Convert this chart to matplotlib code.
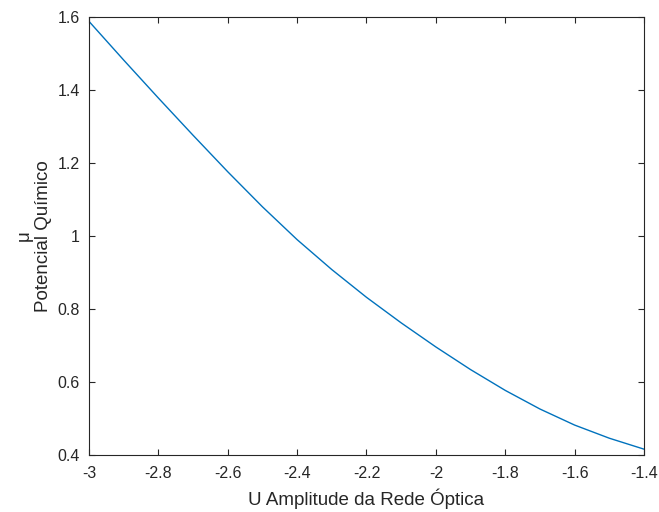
import numpy as np
from matplotlib import pyplot as plt
from matplotlib.ticker import FuncFormatter

plt.rcParams['font.family'] = ['Liberation Sans', 'DejaVu Sans']

# values
amplitude = [-3.0, -2.9, -2.8, -2.7, -2.6, -2.5, -2.4, -2.3, -2.2,
             -2.1, -2.0, -1.9, -1.8, -1.7, -1.6, -1.5, -1.4]
mu = [1.588, 1.482, 1.378, 1.276, 1.176, 1.080, 0.990, 0.908, 0.832,
      0.762, 0.696, 0.634, 0.577, 0.526, 0.482, 0.446, 0.416]

x_ticks = [-3, -2.8, -2.6, -2.4, -2.2, -2, -1.8, -1.6, -1.4]
y_ticks = [0.4, 0.6, 0.8, 1, 1.2, 1.4, 1.6]


def matlab_fmt(v, pos):
    return '%g' % round(v, 4)


fig = plt.figure(figsize=(6.59, 5.12), dpi=100)
ax = fig.add_axes([89 / 659, 57 / 512, 555 / 659, 438 / 512])

ax.plot(amplitude, mu, color='#0072BD', linewidth=1.0)

ax.set_xlim(-3, -1.4)
ax.set_ylim(0.4, 1.6)
ax.set_xticks(x_ticks)
ax.set_yticks(y_ticks)
ax.xaxis.set_major_formatter(FuncFormatter(matlab_fmt))
ax.yaxis.set_major_formatter(FuncFormatter(matlab_fmt))

ax.tick_params(direction='in', top=True, right=True, length=4, width=0.8,
               labelsize=11.5, colors='#262626')
ax.tick_params(axis='x', pad=8)
ax.tick_params(axis='y', pad=6.5)
for sp in ax.spines.values():
    sp.set_color('#262626')
    sp.set_linewidth(0.8)

ax.set_xlabel('U Amplitude da Rede Óptica', fontsize=13.5, color='#262626', labelpad=5)
ax.set_ylabel('μ\nPotencial Químico', fontsize=13.5, color='#262626', labelpad=4,
              linespacing=1.15)

fig.savefig('out.png', dpi=100)
